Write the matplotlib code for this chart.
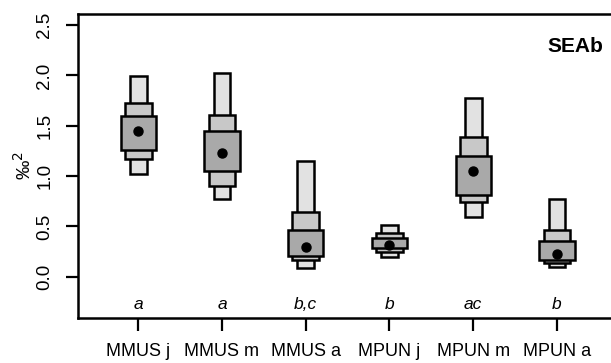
import matplotlib.pyplot as plt
from matplotlib.patches import Rectangle

plt.rcParams['font.family'] = ['Liberation Sans', 'DejaVu Sans']

# groups and letters
groups = ['MMUS j', 'MMUS m', 'MMUS a', 'MPUN j', 'MPUN m', 'MPUN a']
letters = ['a', 'a', 'b,c', 'b', 'ac', 'b']

# mode of the posterior SEAb
mode = [1.45, 1.23, 0.30, 0.32, 1.05, 0.23]

# credible intervals (low, high)
ci95_lo = [1.02, 0.77, 0.09, 0.20, 0.59, 0.10]
ci95_hi = [1.99, 2.02, 1.15, 0.51, 1.78, 0.77]
ci75_lo = [1.17, 0.90, 0.17, 0.25, 0.74, 0.14]
ci75_hi = [1.73, 1.61, 0.64, 0.43, 1.39, 0.46]
ci50_lo = [1.26, 1.05, 0.21, 0.29, 0.81, 0.17]
ci50_hi = [1.60, 1.45, 0.46, 0.38, 1.20, 0.35]

fig = plt.figure(figsize=(6.11, 3.63), dpi=100)
ax = fig.add_axes([0.128, 0.124, 0.872, 0.8375])

# light -> dark, widest last
layers = [
    (ci95_lo, ci95_hi, 0.20, '#e2e2e2'),
    (ci75_lo, ci75_hi, 0.32, '#c8c8c8'),
    (ci50_lo, ci50_hi, 0.42, '#a9a9a9'),
]
for lo, hi, w, col in layers:
    for i in range(len(groups)):
        x = i + 1
        ax.add_patch(Rectangle((x - w / 2, lo[i]), w, hi[i] - lo[i],
                               facecolor=col, edgecolor='black', lw=1.8))

ax.plot(range(1, len(groups) + 1), mode, 'o', color='black', ms=6.5, zorder=5)

for i, lab in enumerate(letters):
    ax.text(i + 1, -0.28, lab, ha='center', va='center', style='italic', fontsize=12.5)

ax.text(6.55, 2.29, 'SEAb', ha='right', va='center', fontweight='bold', fontsize=15)

ax.set_xlim(0.284, 6.645)
ax.set_ylim(-0.41, 2.61)
ax.set_xticks(range(1, len(groups) + 1))
ax.set_xticklabels(groups, fontsize=13)
ax.set_yticks([0, 0.5, 1.0, 1.5, 2.0, 2.5])
ax.set_yticklabels(['0.0', '0.5', '1.0', '1.5', '2.0', '2.5'], fontsize=13.5,
                   rotation=90, va='center')
ax.tick_params(axis='both', length=9, width=1.6)
ax.tick_params(axis='x', pad=9)
ax.tick_params(axis='y', pad=9)
ax.set_ylabel('‰$^2$', fontsize=14, labelpad=1)

for side in ['left', 'top', 'bottom']:
    ax.spines[side].set_linewidth(1.8)
ax.spines['right'].set_visible(False)

fig.savefig('out.png', dpi=100)
